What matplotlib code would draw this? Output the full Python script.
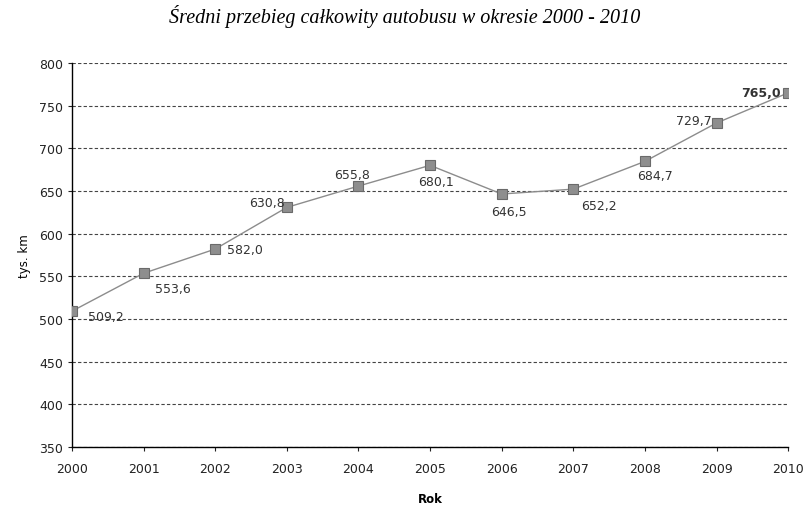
import matplotlib
matplotlib.use("Agg")
import matplotlib.pyplot as plt

years = [2000, 2001, 2002, 2003, 2004, 2005, 2006, 2007, 2008, 2009, 2010]
przebieg = [509.2, 553.6, 582.0, 630.8, 655.8, 680.1, 646.5, 652.2, 684.7, 729.7, 765.0]
labels = ["509,2", "553,6", "582,0", "630,8", "655,8", "680,1", "646,5", "652,2", "684,7", "729,7", "765,0"]

# label offsets in pixels (dx, dy) relative to the marker
offsets = [(34, -5), (29, -15), (30, 0), (-20, 5), (-6, 12), (6, -16), (7, -18), (26, -16), (10, -14), (-23, 2), (-27, 0)]

fig = plt.figure(figsize=(8.1, 5.06), dpi=100)
ax = fig.add_axes([0.0889, 0.1146, 0.8841, 0.7589])

ax.plot(years, przebieg, color="#8c8c8c", linewidth=1.0, marker="s", markersize=6.5,
        markerfacecolor="#8e8e8e", markeredgecolor="#6a6a6a", markeredgewidth=0.8, zorder=3)

for i, (x, y) in enumerate(zip(years, przebieg)):
    dx, dy = offsets[i]
    ax.annotate(labels[i], (x, y), xytext=(dx * 0.72, dy * 0.72), textcoords="offset points",
                ha="center", va="center", fontsize=9, color="#333333",
                fontweight="bold" if i == len(years) - 1 else "normal")

ax.set_xlim(2000, 2010)
ax.set_ylim(350, 800)
ax.set_xticks(years)
ax.set_yticks(range(350, 801, 50))
ax.tick_params(axis="both", labelsize=9, length=3, width=0.8, direction="out", colors="#222222")
ax.tick_params(axis="x", pad=8)

ax.grid(axis="y", color="#444444", linestyle=(0, (3, 2)), linewidth=0.8)
ax.set_axisbelow(True)
for s in ["top", "right"]:
    ax.spines[s].set_visible(False)
ax.spines["left"].set_linewidth(1.0)
ax.spines["bottom"].set_linewidth(1.0)

ax.set_ylabel("tys. km", fontsize=8.5, labelpad=6)
ax.set_xlabel("Rok", fontsize=8.5, fontweight="bold", labelpad=12)

fig.suptitle("Średni przebieg całkowity autobusu w okresie 2000 - 2010", y=0.99,
             fontsize=14.5, fontstyle="italic", family="Liberation Serif")

fig.savefig("out.png", dpi=100)
